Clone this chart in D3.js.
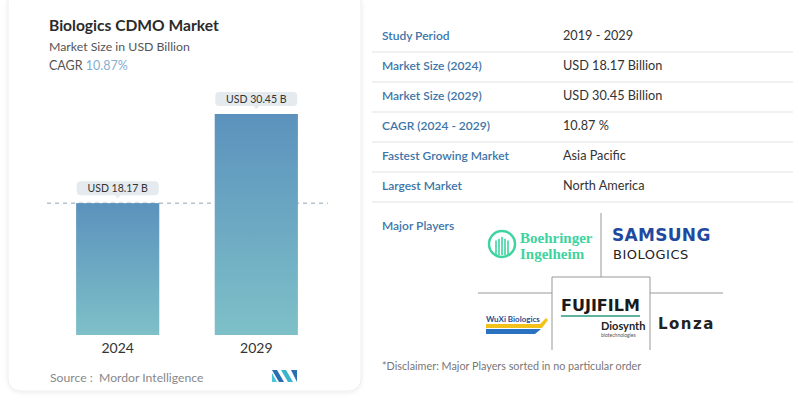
<!DOCTYPE html>
<html>
<head>
<meta charset="utf-8">
<script src="https://cdnjs.cloudflare.com/ajax/libs/d3/7.8.5/d3.min.js"></script>
<style>
  body { margin: 0; background: #fff; font-family: Lato, "Open Sans", sans-serif; }
  svg { display: block; }
</style>
</head>
<body>
<div id="chart"></div>
<script>
(function() {
	var width = 800,
		height = 397;

	// data
	var years = ["2024", "2029"];
	var marketSize = [18.17, 30.45];
	var barLabels = ["USD 18.17 B", "USD 30.45 B"];
	var tableLabels = ["Study Period", "Market Size (2024)", "Market Size (2029)", "CAGR (2024 - 2029)", "Fastest Growing Market", "Largest Market"];
	var tableValues = ["2019 - 2029", "USD 18.17 Billion", "USD 30.45 Billion", "10.87 %", "Asia Pacific", "North America"];

	var svg = d3.select("#chart")
		.append("svg")
		.attr("width", width)
		.attr("height", height);

	var defs = svg.append("defs");
	var grad = defs.append("linearGradient")
		.attr("id", "barGrad")
		.attr("x1", 0).attr("y1", 0).attr("x2", 0).attr("y2", 1);
	grad.append("stop").attr("offset", "0%").attr("stop-color", "#5b92bd");
	grad.append("stop").attr("offset", "100%").attr("stop-color", "#7ec0c8");

	var shadow = defs.append("filter").attr("id", "shadow")
		.attr("x", "-5%").attr("y", "-5%").attr("width", "110%").attr("height", "110%");
	shadow.append("feDropShadow")
		.attr("dx", 0).attr("dy", 1).attr("stdDeviation", 2)
		.attr("flood-color", "#000").attr("flood-opacity", 0.08);

	// left card
	svg.append("rect")
		.attr("x", 8).attr("y", -10)
		.attr("width", 353).attr("height", 401)
		.attr("rx", 12)
		.attr("fill", "#fff")
		.attr("stroke", "#eeeeee")
		.attr("filter", "url(#shadow)");

	// titles
	svg.append("text")
		.attr("x", 49).attr("y", 31)
		.attr("font-size", 15.6).attr("font-weight", 700)
		.attr("fill", "#2b2b2b")
		.text("Biologics CDMO Market");
	svg.append("text")
		.attr("x", 49).attr("y", 51)
		.attr("font-size", 12.3).attr("fill", "#555")
		.text("Market Size in USD Billion");
	var cagr = svg.append("text")
		.attr("x", 49).attr("y", 70)
		.attr("font-size", 12.5).attr("fill", "#555");
	cagr.append("tspan").text("CAGR ");
	cagr.append("tspan").attr("fill", "#86add0").text("10.87%");

	// scales
	var x = d3.scaleBand()
		.domain(years)
		.range([47, 327])
		.paddingInner(0.4)
		.paddingOuter(0.21);

	var y = d3.scaleLinear()
		.domain([0, d3.max(marketSize)])
		.range([335, 114]);

	var data = years.map(function(d, i) {
		return { year: d, value: marketSize[i], label: barLabels[i] };
	});

	// dashed reference line at first value
	svg.append("line")
		.attr("x1", 47).attr("x2", 328)
		.attr("y1", y(marketSize[0])).attr("y2", y(marketSize[0]))
		.attr("stroke", "#8fa4b4")
		.attr("stroke-width", 1)
		.attr("stroke-dasharray", "4,4");

	svg.selectAll(".bar")
		.data(data)
		.enter().append("rect")
		.attr("class", "bar")
		.attr("x", function(d) { return x(d.year); })
		.attr("y", function(d) { return y(d.value); })
		.attr("width", x.bandwidth())
		.attr("height", function(d) { return y(0) - y(d.value); })
		.attr("fill", "url(#barGrad)");

	// callouts
	var callout = svg.selectAll(".callout")
		.data(data)
		.enter().append("g")
		.attr("class", "callout")
		.attr("transform", function(d) {
			return "translate(" + (x(d.year) + x.bandwidth() / 2) + "," + (y(d.value) - 7) + ")";
		});
	callout.append("rect")
		.attr("x", -41).attr("y", -15)
		.attr("width", 82).attr("height", 14)
		.attr("rx", 4)
		.attr("fill", "#e4eaee");
	callout.append("path")
		.attr("d", "M-3,-1 L0,2 L3,-1 Z")
		.attr("fill", "#e4eaee");
	callout.append("text")
		.attr("y", -4)
		.attr("text-anchor", "middle")
		.attr("font-size", 10.5)
		.attr("fill", "#333")
		.text(function(d) { return d.label; });

	// x axis labels
	var xAxis = svg.append("g")
		.attr("transform", "translate(0," + (y(0) + 2) + ")")
		.call(d3.axisBottom(x).tickSize(0).tickPadding(6));
	xAxis.select(".domain").remove();
	xAxis.selectAll("text")
		.attr("font-family", "Lato, sans-serif")
		.attr("font-size", 14)
		.attr("fill", "#333");

	// source
	svg.append("text")
		.attr("x", 50).attr("y", 382)
		.attr("font-size", 12.2).attr("fill", "#888")
		.attr("xml:space", "preserve")
		.text("Source :  Mordor Intelligence");

	// mordor logo
	var logo = svg.append("g").attr("transform", "translate(272,370)");
	logo.append("path").attr("d", "M0,0 L5,0 L12,12 L7,12 Z").attr("fill", "#2a6fb0");
	logo.append("path").attr("d", "M0,3 L5,12 L0,12 Z").attr("fill", "#4cc3d6");
	logo.append("path").attr("d", "M9,0 L14,0 L21,12 L16,12 Z").attr("fill", "#3ab5cc");
	logo.append("path").attr("d", "M19,0 L25,0 L25,12 Z").attr("fill", "#2a6fb0");

	// right table
	var rowH = 30;
	var rows = svg.selectAll(".row")
		.data(tableLabels)
		.enter().append("g")
		.attr("class", "row")
		.attr("transform", function(d, i) { return "translate(0," + (22 + i * 30) + ")"; });
	rows.append("text")
		.attr("x", 382).attr("y", 18)
		.attr("font-size", 12).attr("font-weight", 600)
		.attr("fill", "#3d75a8")
		.text(function(d) { return d; });
	rows.append("text")
		.attr("x", 563).attr("y", 18)
		.attr("font-size", 12.7)
		.attr("fill", "#333")
		.text(function(d, i) { return tableValues[i]; });
	rows.append("line")
		.attr("x1", 372).attr("x2", 793)
		.attr("y1", rowH).attr("y2", rowH)
		.attr("stroke", "#e3e3e3");

	svg.append("text")
		.attr("x", 382).attr("y", 230)
		.attr("font-size", 12).attr("font-weight", 600)
		.attr("fill", "#3d75a8")
		.text("Major Players");

	// player grid
	var grid = svg.append("g").attr("stroke", "#999").attr("stroke-width", 1).attr("fill", "none");
	grid.append("line").attr("x1", 601).attr("x2", 601).attr("y1", 213).attr("y2", 277);
	grid.append("line").attr("x1", 478).attr("x2", 552).attr("y1", 293).attr("y2", 293);
	grid.append("line").attr("x1", 650).attr("x2", 723).attr("y1", 293).attr("y2", 293);
	grid.append("path").attr("d", "M552,350 L552,277 L650,277 L650,350");

	// Boehringer Ingelheim
	var bi = svg.append("g");
	bi.append("circle").attr("cx", 502).attr("cy", 244).attr("r", 13)
		.attr("fill", "none").attr("stroke", "#3fd3a0").attr("stroke-width", 2.5);
	[-6, -3, 0, 3, 6].forEach(function(dx) {
		bi.append("line").attr("x1", 502 + dx).attr("x2", 502 + dx)
			.attr("y1", 237 + Math.abs(dx) * 0.6).attr("y2", 255)
			.attr("stroke", "#3fd3a0").attr("stroke-width", 1.6);
	});
	bi.append("text").attr("x", 520).attr("y", 243)
		.attr("font-family", "'Liberation Serif', serif")
		.attr("font-size", 15).attr("font-weight", 700)
		.attr("fill", "#3fd3a0")
		.text("Boehringer");
	bi.append("text").attr("x", 520).attr("y", 259)
		.attr("font-family", "'Liberation Serif', serif")
		.attr("font-size", 15).attr("font-weight", 700)
		.attr("fill", "#3fd3a0")
		.text("Ingelheim");

	// Samsung Biologics
	svg.append("text").attr("x", 612).attr("y", 241)
		.attr("font-family", "'DejaVu Sans', sans-serif")
		.attr("font-size", 17).attr("font-weight", 700)
		.attr("letter-spacing", 0.3)
		.attr("fill", "#1f4aa0")
		.text("SAMSUNG");
	svg.append("text").attr("x", 613).attr("y", 259)
		.attr("font-family", "'DejaVu Sans', sans-serif")
		.attr("font-size", 13)
		.attr("letter-spacing", 0.5)
		.attr("fill", "#222")
		.text("BIOLOGICS");

	// WuXi Biologics
	var wx = svg.append("g");
	wx.append("path").attr("d", "M486,324 L540,324 L546,318 L548,320 L542,328 L486,328 Z").attr("fill", "#f2c21b");
	wx.append("path").attr("d", "M486,329 L541,329 L535,334 L486,334 Z").attr("fill", "#2a72c0");
	wx.append("text").attr("x", 486).attr("y", 322)
		.attr("font-size", 8).attr("font-weight", 700)
		.attr("fill", "#1f4f94")
		.text("WuXi Biologics");

	// Fujifilm Diosynth
	svg.append("text").attr("x", 561).attr("y", 311)
		.attr("font-family", "'DejaVu Sans', sans-serif")
		.attr("font-size", 16).attr("font-weight", 700)
		.attr("fill", "#1a1a1a")
		.text("FUJIFILM");
	svg.append("line").attr("x1", 561).attr("x2", 640).attr("y1", 316).attr("y2", 316)
		.attr("stroke", "#2a9a80").attr("stroke-width", 1.5);
	svg.append("text").attr("x", 601).attr("y", 330)
		.attr("font-size", 11).attr("font-weight", 700)
		.attr("fill", "#222")
		.text("Diosynth");
	svg.append("text").attr("x", 601).attr("y", 337)
		.attr("font-size", 5).attr("fill", "#555")
		.text("biotechnologies");

	// Lonza
	svg.append("text").attr("x", 658).attr("y", 329)
		.attr("font-family", "'DejaVu Sans', sans-serif")
		.attr("font-size", 15).attr("font-weight", 700)
		.attr("letter-spacing", 1.5)
		.attr("fill", "#222")
		.text("Lonza");

	svg.append("text")
		.attr("x", 382).attr("y", 370)
		.attr("font-size", 10.8).attr("fill", "#777")
		.text("*Disclaimer: Major Players sorted in no particular order");
})();
</script>
</body>
</html>
